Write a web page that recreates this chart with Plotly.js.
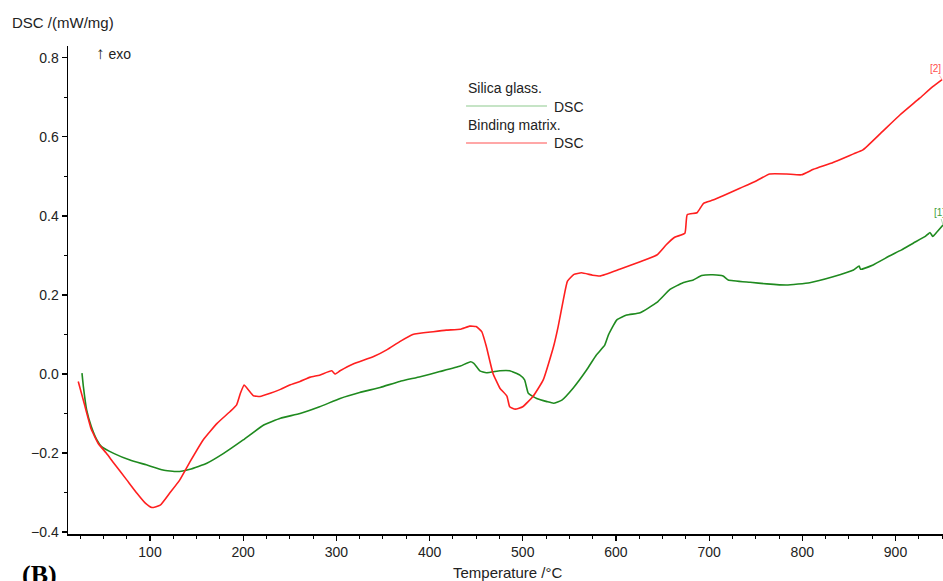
<!DOCTYPE html>
<html>
<head>
<meta charset="utf-8">
<script src="https://cdn.plot.ly/plotly-3.0.1.min.js"></script>
<style>
html,body{margin:0;padding:0;background:#fff;}
#chart{width:943px;height:581px;}
</style>
</head>
<body>
<div id="chart"></div>
<script>
// Silica glass DSC (green)
const silicaT = [27,28.5,32,37,43,48,61,78.5,96,114,129,143,161,179,200,222,240,261,282,304,325,347,368,390,411,433,444,447.5,454,461,475.5,486,497,502,506,515,526,533,542,554,568.5,579,588,592,601,611.5,626,644,658,672,683,692,704,715,720.5,744,762,783,808,833,855,861,862.5,876,894,906.5,919,932,937,940,944,951];
const silicaDSC = [0.002,-0.032,-0.091,-0.133,-0.167,-0.184,-0.201,-0.218,-0.23,-0.243,-0.247,-0.241,-0.226,-0.201,-0.167,-0.129,-0.112,-0.1,-0.083,-0.062,-0.047,-0.034,-0.019,-0.007,0.006,0.02,0.031,0.027,0.008,0.003,0.008,0.008,-0.003,-0.015,-0.049,-0.062,-0.07,-0.074,-0.066,-0.036,0.01,0.048,0.073,0.099,0.137,0.149,0.155,0.181,0.214,0.231,0.238,0.249,0.251,0.248,0.238,0.232,0.228,0.225,0.231,0.246,0.263,0.273,0.265,0.276,0.299,0.314,0.331,0.348,0.358,0.348,0.358,0.377];

// Binding matrix DSC (red)
const matrixT = [23,30,37,45,53,60,75,86,95,102,111,121,132,143,157,172,186,193,197,201,205.5,211,218,229,240,250,261,272,282,295,298.5,304,318,340,354,368,382,404,418,433,443,450,456,461,468,475.5,483,486,492,500,511,522,533,538,543.5,548,555,563,575,583,604,626,644,654,663,674,676.5,687,694,704,715,733,751,765,783,799,812,833,855,865,884,905,926,940,950];
const matrixDSC = [-0.019,-0.08,-0.14,-0.178,-0.2,-0.222,-0.268,-0.302,-0.327,-0.338,-0.332,-0.302,-0.268,-0.222,-0.167,-0.125,-0.095,-0.078,-0.049,-0.028,-0.04,-0.055,-0.057,-0.049,-0.039,-0.028,-0.019,-0.008,-0.003,0.008,0.0,0.008,0.025,0.044,0.061,0.082,0.1,0.107,0.111,0.113,0.121,0.12,0.107,0.069,0.002,-0.036,-0.056,-0.083,-0.089,-0.083,-0.057,-0.015,0.069,0.12,0.187,0.235,0.252,0.256,0.25,0.248,0.265,0.284,0.301,0.327,0.346,0.356,0.403,0.408,0.432,0.44,0.451,0.47,0.489,0.506,0.506,0.504,0.518,0.535,0.557,0.567,0.609,0.656,0.698,0.727,0.745];

const xTickVals = [100,200,300,400,500,600,700,800,900];
const yTickVals = [-0.4,-0.2,0.0,0.2,0.4,0.6,0.8];

const green = '#1f8a1f';
const red = '#ff1f1f';
const font = 'Liberation Sans, Arial, sans-serif';

const traces = [
  {x: silicaT, y: silicaDSC, type:'scatter', mode:'lines', name:'Silica glass.',
   line:{color:green, width:1.6, shape:'spline', smoothing:0.4}, hoverinfo:'skip'},
  {x: matrixT, y: matrixDSC, type:'scatter', mode:'lines', name:'Binding matrix.',
   line:{color:red, width:1.6, shape:'spline', smoothing:0.4}, hoverinfo:'skip'}
];

const axisCommon = {
  showline:true, linecolor:'#000', linewidth:1.5, mirror:false,
  showgrid:false, zeroline:false, ticks:'outside', ticklen:5, tickwidth:1.2, tickcolor:'#000',
  tickfont:{family:font, size:14, color:'#222'}
};

const layout = {
  width:943, height:581,
  margin:{l:68, r:0, t:46, b:47},
  paper_bgcolor:'#fff', plot_bgcolor:'#fff',
  showlegend:false,
  font:{family:font, color:'#222'},
  xaxis: Object.assign({}, axisCommon, {
    range:[12, 951], tickvals:xTickVals,
    minor:{dtick:25, tick0:0, ticks:'outside', ticklen:3, tickwidth:1, tickcolor:'#000', showgrid:false}
  }),
  yaxis: Object.assign({}, axisCommon, {
    range:[-0.405, 0.83], tickvals:yTickVals, tickformat:'.1f',
    minor:{dtick:0.1, tick0:0, ticks:'outside', ticklen:3, tickwidth:1, tickcolor:'#000', showgrid:false}
  }),
  annotations:[
    {xref:'paper', yref:'paper', x:-0.0663, y:1.049, xanchor:'left', yanchor:'middle', showarrow:false,
     text:'DSC /(mW/mg)', font:{family:font, size:15, color:'#222'}},
    {xref:'paper', yref:'paper', x:0.0297, y:0.984, xanchor:'left', yanchor:'middle', showarrow:false,
     text:'<span style="font-size:17px">↑</span> exo', font:{family:font, size:14, color:'#222'}},
    {xref:'paper', yref:'paper', x:0.503, y:-0.078, xanchor:'center', yanchor:'middle', showarrow:false,
     text:'Temperature /°C', font:{family:font, size:15, color:'#222'}},
    {xref:'paper', yref:'paper', x:-0.0549, y:-0.082, xanchor:'left', yanchor:'middle', showarrow:false,
     text:'<b>(B)</b>', font:{family:'Liberation Serif, Times New Roman, serif', size:26, color:'#000'}},
    {xref:'paper', yref:'paper', x:0.4549, y:0.914, xanchor:'left', yanchor:'middle', showarrow:false,
     text:'Silica glass.', font:{family:font, size:14, color:'#222'}},
    {xref:'paper', yref:'paper', x:0.5531, y:0.875, xanchor:'left', yanchor:'middle', showarrow:false,
     text:'DSC', font:{family:font, size:14, color:'#222'}},
    {xref:'paper', yref:'paper', x:0.4549, y:0.838, xanchor:'left', yanchor:'middle', showarrow:false,
     text:'Binding matrix.', font:{family:font, size:14, color:'#222'}},
    {xref:'paper', yref:'paper', x:0.5531, y:0.801, xanchor:'left', yanchor:'middle', showarrow:false,
     text:'DSC', font:{family:font, size:14, color:'#222'}},
    {x:matrixT[matrixT.length-1], y:matrixDSC[matrixDSC.length-1], text:'[2]', showarrow:true, arrowhead:0,
     arrowwidth:0.6, arrowcolor:'#ff8080', ax:-7, ay:-11, font:{family:font, size:10, color:'#ff5050'}},
    {x:silicaT[silicaT.length-1], y:silicaDSC[silicaDSC.length-1], text:'[1]', showarrow:true, arrowhead:0,
     arrowwidth:0.6, arrowcolor:'#80c080', ax:-4, ay:-13, font:{family:font, size:10, color:'#40a040'}}
  ],
  shapes:[
    {type:'line', xref:'paper', yref:'paper', x0:0.4549, x1:0.5474, y0:0.877, y1:0.877,
     line:{color:'#b3dbb3', width:1.5}},
    {type:'line', xref:'paper', yref:'paper', x0:0.4549, x1:0.5474, y0:0.801, y1:0.801,
     line:{color:'#ff8a8a', width:1.5}}
  ]
};

Plotly.newPlot('chart', traces, layout, {staticPlot:true, displayModeBar:false});
</script>
</body>
</html>
